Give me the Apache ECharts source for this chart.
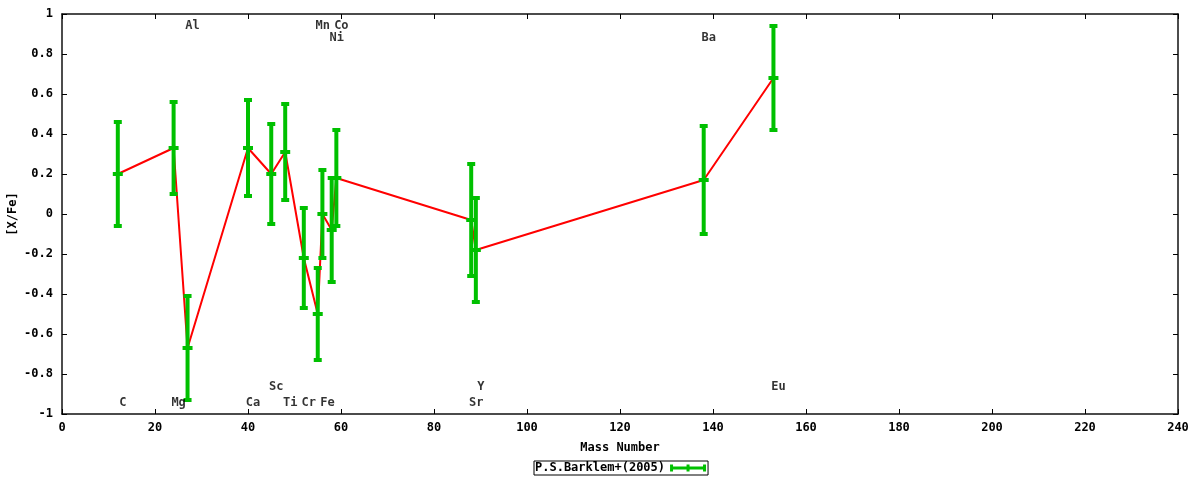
<!DOCTYPE html>
<html>
<head>
<meta charset="utf-8">
<script src="https://cdn.jsdelivr.net/npm/echarts@6/dist/echarts.min.js"></script>
<style>html,body{margin:0;padding:0;background:#fff}#c{width:1200px;height:480px}</style>
</head>
<body>
<div id="c"></div>
<script>
// Data (sorted by mass number, as the line connects them)
const elements = ['C','Mg','Al','Ca','Sc','Ti','Cr','Mn','Fe','Ni','Co','Sr','Y','Ba','Eu'];
const massNumbers = [12, 24, 27, 40, 45, 48, 52, 55, 56, 58, 59, 88, 89, 138, 153];
const xFe = [0.20, 0.33, -0.67, 0.33, 0.20, 0.31, -0.22, -0.50, 0.00, -0.08, 0.18, -0.03, -0.18, 0.17, 0.68];
const xFeErr = [0.26, 0.23, 0.26, 0.24, 0.25, 0.24, 0.25, 0.23, 0.22, 0.26, 0.24, 0.28, 0.26, 0.27, 0.26];
// Element label heights (in [X/Fe] units)
const labelY = [-0.945, -0.945, 0.94, -0.945, -0.865, -0.945, -0.945, 0.94, -0.945, 0.88, 0.94, -0.945, -0.865, 0.88, -0.865];
const xTicks = {min: 0, max: 240, interval: 20};
const yTicks = {min: -1, max: 1, interval: 0.2};
const seriesName = 'P.S.Barklem+(2005)';
const xTitle = 'Mass Number';
const yTitle = '[X/Fe]';

const FONT = 'DejaVu Sans Mono';
const FS = 12;
const GREEN = '#00c000';

const errData = massNumbers.map((m, i) => [m, xFe[i], xFeErr[i]]);
const lineData = massNumbers.map((m, i) => [m, xFe[i]]);
const labelData = massNumbers.map((m, i) => ({value: [m, labelY[i]], name: elements[i]}));

const axisLineStyle = {color: '#111', width: 1.5};
const txt = {fontFamily: FONT, fontSize: FS, fontWeight: 'bold', color: '#000'};
const chart = echarts.init(document.getElementById('c'), null, {renderer: 'canvas'});
chart.setOption({
  animation: false,
  backgroundColor: '#fff',
  grid: {left: 62, right: 22, top: 14, bottom: 66, show: false, containLabel: false, outerBoundsMode: 'none'},
  graphic: [{
    type: 'text', x: 13, y: 214, rotation: Math.PI / 2,
    style: {text: yTitle, align: 'center', verticalAlign: 'middle', fill: '#000',
      font: 'bold ' + FS + 'px "' + FONT + '"'}
  }],
  legend: {
    data: [{name: seriesName, icon: 'path://M0,2 L36,2 L36,5 L0,5 Z M0,0 L3,0 L3,7 L0,7 Z M16.5,0 L19.5,0 L19.5,7 L16.5,7 Z M33,0 L36,0 L36,7 L33,7 Z'}],
    left: 534, top: 461,
    align: 'right',
    itemWidth: 36, itemHeight: 7, itemGap: 0,
    padding: [1, 2, 1, 1],
    borderColor: '#000', borderWidth: 1, borderRadius: 0,
    textStyle: txt,
    selectedMode: false
  },
  xAxis: [{
    type: 'value', min: xTicks.min, max: xTicks.max, interval: xTicks.interval,
    name: xTitle, nameLocation: 'middle', nameGap: 28, nameMoveOverlap: false,
    nameTextStyle: txt,
    axisLine: {show: true, onZero: false, lineStyle: axisLineStyle},
    axisTick: {show: true, inside: true, length: 5, lineStyle: {color: '#000'}},
    axisLabel: Object.assign({margin: 8}, txt),
    splitLine: {show: false}
  }, {
    type: 'value', position: 'top', min: xTicks.min, max: xTicks.max, interval: xTicks.interval,
    axisLine: {show: true, onZero: false, lineStyle: axisLineStyle},
    axisTick: {show: true, inside: true, length: 5, lineStyle: {color: '#000'}},
    axisLabel: {show: false}, splitLine: {show: false}
  }],
  yAxis: [{
    type: 'value', min: yTicks.min, max: yTicks.max, interval: yTicks.interval,
    axisLine: {show: true, onZero: false, lineStyle: axisLineStyle},
    axisTick: {show: true, inside: true, length: 5, lineStyle: {color: '#000'}},
    axisLabel: Object.assign({margin: 9, formatter: v => String(Math.round(v * 10) / 10)}, txt),
    splitLine: {show: false}
  }, {
    type: 'value', position: 'right', min: yTicks.min, max: yTicks.max, interval: yTicks.interval,
    axisLine: {show: true, onZero: false, lineStyle: axisLineStyle},
    axisTick: {show: true, inside: true, length: 5, lineStyle: {color: '#000'}},
    axisLabel: {show: false}, splitLine: {show: false}
  }],
  series: [{
    name: 'line', type: 'line', data: lineData, xAxisIndex: 0, yAxisIndex: 0,
    showSymbol: false, symbol: 'none', z: 2,
    lineStyle: {color: '#ff0000', width: 2}, itemStyle: {color: '#ff0000'}
  }, {
    name: seriesName, type: 'custom', data: errData, xAxisIndex: 0, yAxisIndex: 0, z: 3,
    itemStyle: {color: GREEN},
    encode: {x: 0, y: 1},
    renderItem: function (params, api) {
      const x = api.value(0), y = api.value(1), e = api.value(2);
      const pc = api.coord([x, y]);
      const pt = api.coord([x, y + e]);
      const pb = api.coord([x, y - e]);
      const st = {fill: GREEN};
      return {type: 'group', children: [
        {type: 'rect', shape: {x: pc[0] - 2, y: pt[1], width: 4, height: pb[1] - pt[1]}, style: st},
        {type: 'rect', shape: {x: pc[0] - 4, y: pt[1] - 2, width: 8, height: 4}, style: st},
        {type: 'rect', shape: {x: pc[0] - 4, y: pb[1] - 2, width: 8, height: 4}, style: st},
        {type: 'rect', shape: {x: pc[0] - 5, y: pc[1] - 2, width: 10, height: 4}, style: st}
      ]};
    }
  }, {
    name: 'labels', type: 'scatter', data: labelData, xAxisIndex: 0, yAxisIndex: 0,
    symbolSize: 0, z: 4, silent: true,
    label: Object.assign({show: true, position: 'inside', offset: [5, 0], formatter: p => p.name}, txt)
  }]
});
</script>
</body>
</html>
